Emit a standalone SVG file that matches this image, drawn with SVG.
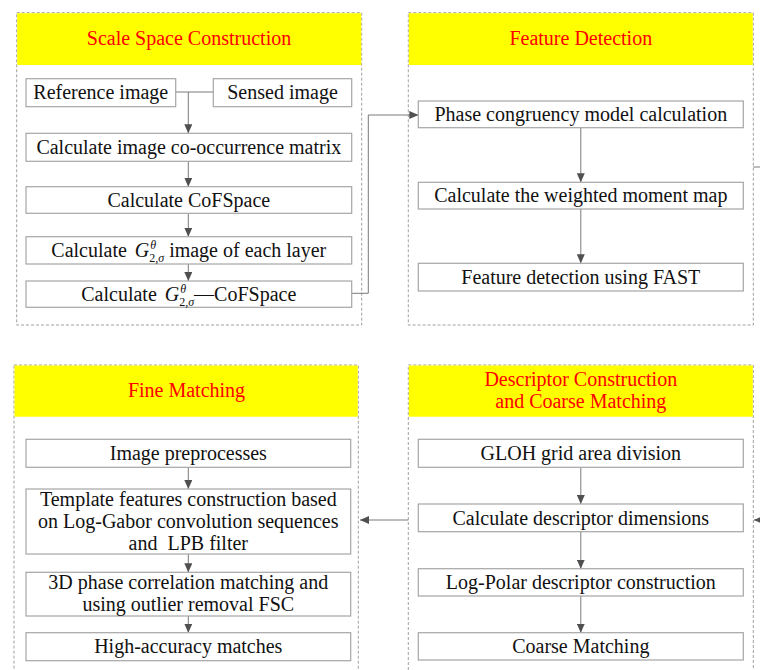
<svg xmlns="http://www.w3.org/2000/svg" width="760" height="670" viewBox="0 0 760 670">
<style>
.panel{fill:#fff;stroke:#a0a0a0;stroke-width:1;stroke-dasharray:3,2}
.hdr{fill:#ffff00}
.box{fill:#fff;stroke:#a6a6a6;stroke-width:1.2}
.t{font-family:"Liberation Serif","Times New Roman",serif;font-size:20px;fill:#111;text-anchor:middle}
.h{font-family:"Liberation Serif","Times New Roman",serif;font-size:20px;fill:#ff0000;text-anchor:middle}
.c{fill:none;stroke:#7a7a7a;stroke-width:1}
.i{font-style:italic}
.s{font-size:12px}
</style>
<defs>
<marker id="ah" markerUnits="userSpaceOnUse" markerWidth="9" markerHeight="8" refX="9" refY="4" orient="auto">
<path d="M0,0 L9,4 L0,8 z" fill="#505050"/>
</marker>
</defs>
<rect width="760" height="670" fill="#fff"/>

<g id="panel-scale-space">
<rect class="panel" x="16.7" y="12.7" width="345" height="312.3"/>
<rect class="hdr" x="17.2" y="13.2" width="344" height="51.8"/>
<text class="h" x="189" y="45">Scale Space Construction</text>
</g>
<g id="panel-feature-detection">
<rect class="panel" x="408.3" y="12.7" width="345" height="312.3"/>
<rect class="hdr" x="408.8" y="13.2" width="344" height="51.8"/>
<text class="h" x="580.8" y="45">Feature Detection</text>
</g>
<g id="panel-fine-matching">
<rect class="panel" x="14" y="365" width="344.3" height="320"/>
<rect class="hdr" x="14.5" y="365.5" width="343.3" height="51.2"/>
<text class="h" x="186.5" y="397.3">Fine Matching</text>
</g>
<g id="panel-descriptor">
<rect class="panel" x="408.3" y="365" width="345" height="320"/>
<rect class="hdr" x="408.8" y="365.5" width="344" height="51.2"/>
<text class="h" x="580.8" y="386">Descriptor Construction</text>
<text class="h" x="580.8" y="408">and Coarse Matching</text>
</g>

<g id="connectors">
<path class="c" d="M175.7,92 H213.3"/>
<path class="c" d="M188.3,92 V133.3" marker-end="url(#ah)"/>
<path class="c" d="M188.3,161.3 V186.7" marker-end="url(#ah)"/>
<path class="c" d="M188.3,213.3 V236.7" marker-end="url(#ah)"/>
<path class="c" d="M188.3,264 V281" marker-end="url(#ah)"/>
<path class="c" d="M351.7,293.3 H368.3 V115 H418.3" marker-end="url(#ah)"/>
<path class="c" d="M580.8,127.7 V182.3" marker-end="url(#ah)"/>
<path class="c" d="M580.8,209 V263.3" marker-end="url(#ah)"/>
<path class="c" d="M753.3,167 H766 V520 H754" marker-end="url(#ah)"/>
<path class="c" d="M580.8,467.3 V504" marker-end="url(#ah)"/>
<path class="c" d="M580.8,531.7 V568.7" marker-end="url(#ah)"/>
<path class="c" d="M580.8,596 V632.7" marker-end="url(#ah)"/>
<path class="c" d="M408.3,520 H360" marker-end="url(#ah)"/>
<path class="c" d="M188.3,467.3 V489" marker-end="url(#ah)"/>
<path class="c" d="M188.3,554 V572.3" marker-end="url(#ah)"/>
<path class="c" d="M188.3,616 V632.7" marker-end="url(#ah)"/>
</g>

<g id="node-reference">
<rect class="box" x="26" y="78.7" width="149.7" height="28"/>
<text class="t" x="100.8" y="99">Reference image</text>
</g>
<g id="node-sensed">
<rect class="box" x="213.3" y="78.7" width="138.4" height="28"/>
<text class="t" x="282.5" y="99">Sensed image</text>
</g>
<g id="node-cooccurrence">
<rect class="box" x="26" y="133.3" width="325.7" height="28"/>
<text class="t" x="188.8" y="154">Calculate image co-occurrence matrix</text>
</g>
<g id="node-cofspace">
<rect class="box" x="26" y="186.7" width="325.7" height="26.6"/>
<text class="t" x="188.8" y="207">Calculate CoFSpace</text>
</g>
<g id="node-g-layer">
<rect class="box" x="26" y="236.7" width="325.7" height="27.3"/>
<text class="t" x="188.8" y="257">Calculate<tspan class="i" dx="8">G</tspan><tspan class="s i" dx="1" dy="-8">θ</tspan><tspan class="s" dx="-7" dy="13">2,</tspan><tspan class="s i">σ</tspan><tspan dy="-5"> image of each layer</tspan></text>
</g>
<g id="node-g-cofspace">
<rect class="box" x="26" y="281" width="325.7" height="26.3"/>
<text class="t" x="188.8" y="301">Calculate<tspan class="i" dx="8">G</tspan><tspan class="s i" dx="1" dy="-8">θ</tspan><tspan class="s" dx="-7" dy="13">2,</tspan><tspan class="s i">σ</tspan><tspan dy="-5">—CoFSpace</tspan></text>
</g>

<g id="node-phase">
<rect class="box" x="418.3" y="101" width="325" height="26.7"/>
<text class="t" x="580.8" y="121">Phase congruency model calculation</text>
</g>
<g id="node-moment">
<rect class="box" x="418.3" y="182.3" width="325" height="26.7"/>
<text class="t" x="580.8" y="202.3">Calculate the weighted moment map</text>
</g>
<g id="node-fast">
<rect class="box" x="418.3" y="263.3" width="325" height="27.7"/>
<text class="t" x="580.8" y="284">Feature detection using FAST</text>
</g>

<g id="node-preprocess">
<rect class="box" x="26" y="439.3" width="324.7" height="28"/>
<text class="t" x="188.3" y="460">Image preprocesses</text>
</g>
<g id="node-template">
<rect class="box" x="26" y="489" width="324.7" height="65"/>
<text class="t" x="188.3" y="505.5">Template features construction based</text>
<text class="t" x="188.3" y="527.5">on Log-Gabor convolution sequences</text>
<text class="t" x="188.3" y="549.5" xml:space="preserve">and  LPB filter</text>
</g>
<g id="node-3d">
<rect class="box" x="26" y="572.3" width="324.7" height="43.7"/>
<text class="t" x="188.3" y="589">3D phase correlation matching and</text>
<text class="t" x="188.3" y="611">using outlier removal FSC</text>
</g>
<g id="node-high">
<rect class="box" x="26" y="632.7" width="324.7" height="28"/>
<text class="t" x="188.3" y="653">High-accuracy matches</text>
</g>

<g id="node-gloh">
<rect class="box" x="418.3" y="439.3" width="325" height="28"/>
<text class="t" x="580.8" y="460">GLOH grid area division</text>
</g>
<g id="node-dims">
<rect class="box" x="418.3" y="504" width="325" height="27.7"/>
<text class="t" x="580.8" y="524.5">Calculate descriptor dimensions</text>
</g>
<g id="node-logpolar">
<rect class="box" x="418.3" y="568.7" width="325" height="27.3"/>
<text class="t" x="580.8" y="589">Log-Polar descriptor construction</text>
</g>
<g id="node-coarse">
<rect class="box" x="418.3" y="632.7" width="325" height="27.3"/>
<text class="t" x="580.8" y="653">Coarse Matching</text>
</g>
</svg>
